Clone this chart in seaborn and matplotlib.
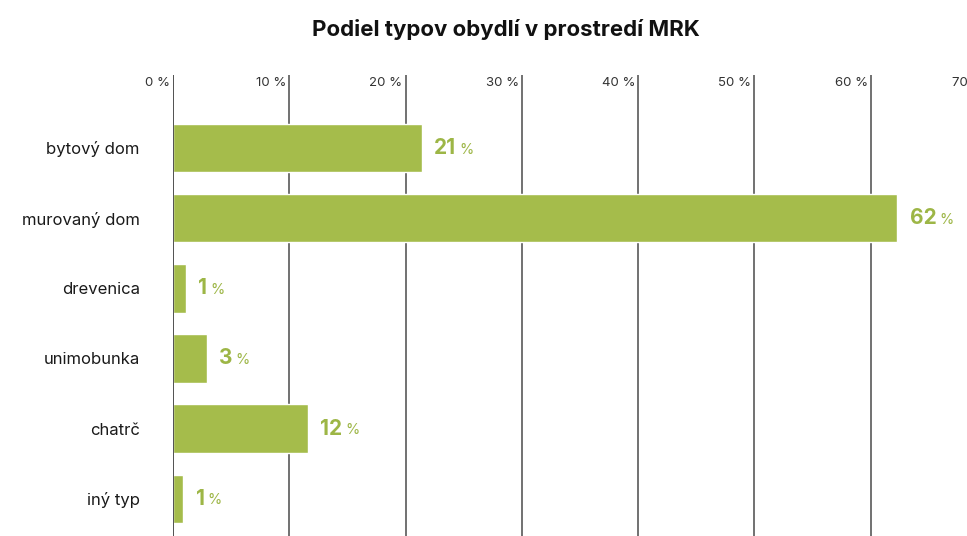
"""Share of dwelling types in marginalised Roma communities (MRK)."""
from matplotlib import pyplot as plt
from matplotlib import transforms
import pandas as pd
import seaborn as sns

categories = ["bytový dom", "murovaný dom", "drevenica", "unimobunka", "chatrč", "iný typ"]
shares = [21.4, 62.3, 1.1, 2.9, 11.6, 0.9]
x_ticks = [0, 10, 20, 30, 40, 50, 60, 70]
x_tick_labels = ["0 %", "10 %", "20 %", "30 %", "40 %", "50 %", "60 %", "70 %"]

df = pd.DataFrame({"typ": categories, "podiel": shares})

sns.set_style("white")
plt.rcParams["font.family"] = ["Inter", "DejaVu Sans"]

green = "#a5bc4b"
label_green = "#9db646"

fig = plt.figure(figsize=(9.67, 5.36), dpi=100)
ax = fig.add_axes([173 / 967, 0, (987 - 173) / 967, (536 - 75) / 536])

sns.barplot(data=df, x="podiel", y="typ", orient="h", color=green,
            saturation=1, width=0.69, ax=ax, zorder=2)

ax.set_xlim(0, 70)
ax.set_ylim(5.53, -1.04)
for sp in ax.spines.values():
    sp.set_visible(False)

# grid lines behind the bars, zero line on top
for t in x_ticks[1:]:
    ax.axvline(t, color="#4a4a4a", lw=1.1, zorder=1)
ax.axvline(0, color="#222222", lw=1.1, zorder=3)

ax.set_xticks([])
ax.set_xlabel("")
ax.set_ylabel("")
ax.tick_params(axis="y", length=0, pad=24, labelsize=12, labelcolor="#1a1a1a")

# the last label runs past the right edge, as in the original
trans = transforms.blended_transform_factory(ax.transData, ax.transAxes)
for t, lab in zip(x_ticks, x_tick_labels):
    ax.text(t, 0.995, lab, transform=trans + transforms.ScaledTranslation(-3 / 100, 0, fig.dpi_scale_trans),
            ha="right", va="top", fontsize=9.5, color="#333333", clip_on=False)

for i, v in enumerate(shares):
    num = ax.annotate(f"{v:.0f}", xy=(v, i), xytext=(9, 0), textcoords="offset points",
                      ha="left", va="center", fontsize=15, fontweight="bold", color=label_green)
    ax.annotate("%", xy=(1, 0), xycoords=num, xytext=(2, 1), textcoords="offset points",
                ha="left", va="bottom", fontsize=10.5, color=label_green)

fig.suptitle("Podiel typov obydlí v prostredí MRK", x=0.523, y=0.965,
             fontsize=16, fontweight="bold", color="#111111")

fig.savefig("out.png", dpi=100)
